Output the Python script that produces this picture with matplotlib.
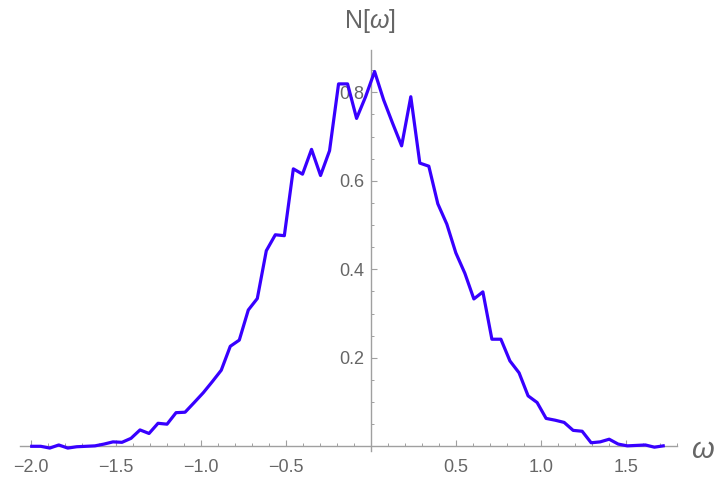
import matplotlib
matplotlib.use("Agg")
import matplotlib.pyplot as plt
from matplotlib.ticker import MultipleLocator, FixedLocator

plt.rcParams['font.family'] = ['Liberation Sans', 'DejaVu Sans']
plt.rcParams['axes.unicode_minus'] = True
plt.rcParams['mathtext.fontset'] = 'custom'
plt.rcParams['mathtext.rm'] = 'Liberation Sans'
plt.rcParams['mathtext.it'] = 'Liberation Sans:italic'

omega = [-1.996, -1.943, -1.890, -1.837, -1.784, -1.731, -1.677, -1.624, -1.571, -1.518,
         -1.465, -1.412, -1.359, -1.306, -1.253, -1.200, -1.147, -1.094, -1.040, -0.987,
         -0.934, -0.881, -0.828, -0.775, -0.722, -0.669, -0.616, -0.563, -0.510, -0.457,
         -0.403, -0.350, -0.297, -0.244, -0.191, -0.138, -0.085, -0.032, 0.021, 0.074,
         0.127, 0.180, 0.234, 0.287, 0.340, 0.393, 0.446, 0.499, 0.552, 0.605,
         0.658, 0.711, 0.764, 0.817, 0.871, 0.924, 0.977, 1.030, 1.083, 1.136,
         1.189, 1.242, 1.295, 1.348, 1.401, 1.454, 1.508, 1.561, 1.614, 1.667, 1.719]
N = [0.000, 0.000, -0.004, 0.003, -0.004, -0.001, 0.000, 0.001, 0.005, 0.010,
     0.009, 0.018, 0.037, 0.029, 0.052, 0.050, 0.076, 0.077, 0.099, 0.121,
     0.146, 0.172, 0.226, 0.240, 0.308, 0.334, 0.442, 0.478, 0.476, 0.627,
     0.615, 0.671, 0.612, 0.668, 0.819, 0.819, 0.741, 0.790, 0.847, 0.783,
     0.730, 0.679, 0.790, 0.640, 0.633, 0.548, 0.502, 0.437, 0.391, 0.333,
     0.349, 0.242, 0.242, 0.193, 0.166, 0.114, 0.099, 0.063, 0.059, 0.054,
     0.036, 0.034, 0.008, 0.010, 0.016, 0.005, 0.001, 0.002, 0.003, -0.002, 0.001]

x_major = [-2.0, -1.5, -1.0, -0.5, 0.5, 1.0, 1.5]
x_labels = ['\u22122.0', '\u22121.5', '\u22121.0', '\u22120.5', '0.5', '1.0', '1.5']
y_major = [0.2, 0.4, 0.6, 0.8]
y_labels = ['0.2', '0.4', '0.6', '0.8']

W, H = 714, 480
fig = plt.figure(figsize=(W / 100, H / 100), dpi=100)

xlo, xhi = -2.065, 1.80
ylo, yhi = -0.01, 0.895
left_px, right_px = 20, 677
bot_px = 446.3 - 442.5 * ylo
top_px = 446.3 - 442.5 * yhi
ax = fig.add_axes([left_px / W, 1 - bot_px / H, (right_px - left_px) / W, (bot_px - top_px) / H])

ax.plot(omega, N, color='#3800ff', lw=2.3, clip_on=False, zorder=3)

ax.set_xlim(xlo, xhi)
ax.set_ylim(ylo, yhi)

axis_col = '#a0a0a0'
lab_col = '#666666'
for s in ['top', 'right']:
    ax.spines[s].set_visible(False)
ax.spines['left'].set_position(('data', 0))
ax.spines['bottom'].set_position(('data', 0))
for s in ['left', 'bottom']:
    ax.spines[s].set_color(axis_col)
    ax.spines[s].set_linewidth(1.0)

ax.xaxis.set_major_locator(FixedLocator(x_major))
ax.set_xticklabels(x_labels)
ax.xaxis.set_minor_locator(MultipleLocator(0.1))
ax.yaxis.set_major_locator(FixedLocator(y_major))
ax.set_yticklabels(y_labels)
ax.yaxis.set_minor_locator(MultipleLocator(0.05))

ax.tick_params(axis='x', which='major', direction='in', length=4.5, width=0.8,
               color=axis_col, labelcolor=lab_col, labelsize=13, pad=9)
ax.tick_params(axis='x', which='minor', direction='in', length=2.5, width=0.7, color=axis_col)
ax.tick_params(axis='y', which='major', direction='in', length=4.5, width=0.8,
               color=axis_col, labelcolor=lab_col, labelsize=13, pad=5)
ax.tick_params(axis='y', which='minor', direction='in', length=2.5, width=0.7, color=axis_col)

fig.text(370 / W, 1 - 21 / H, 'N[$\\omega$]', ha='center', va='center', color=lab_col, fontsize=18)
fig.text(691 / W, 1 - 450 / H, '\u03c9', ha='left', va='center', color=lab_col, fontsize=21,
         style='italic')

fig.savefig('out.png', dpi=100)
